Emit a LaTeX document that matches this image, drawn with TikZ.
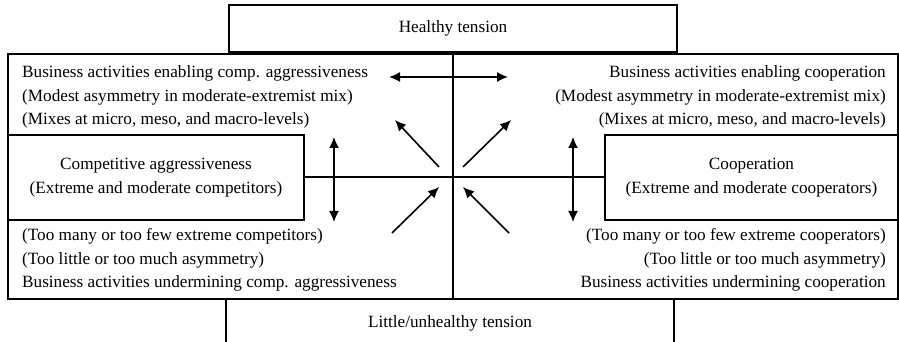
\documentclass[tikz,border=0pt]{standalone}
\usepackage{fontspec}
\setmainfont{Liberation Serif}
\usetikzlibrary{arrows.meta,positioning}
\tikzset{
  tn/frame/.style={draw, line width=2pt, inner sep=0pt},
  tn/box/.style={draw, line width=2pt, fill=white, align=center, inner sep=0pt},
  tn/text/.style={font=\fontsize{17.2}{23.5}\selectfont, inner sep=0pt},
  tn/line/.style={line width=2pt},
  tn/dbl/.style={{Latex[length=11pt,width=10pt]}-{Latex[length=11pt,width=10pt]}, line width=1.6pt},
  tn/arr/.style={-{Latex[length=11pt,width=10pt]}, line width=1.6pt}
}

\begin{document}
\begin{tikzpicture}[x=1pt, y=1pt]
\useasboundingbox (0,0) rectangle (899,342);
% outer frame and tension boxes
\node[tn/frame, minimum width=890pt, minimum height=245pt, anchor=south west] (frame) at (7,42) {};
\node[tn/frame, minimum width=448pt, minimum height=47pt, anchor=south] (healthy) at (frame.north) {};
\node[tn/text] (healthyT) at (healthy.center) {Healthy tension};
\coordinate (unhA) at (226,0);
\coordinate (unhB) at (674,0);
\draw[tn/line] (unhA) -- (unhA |- frame.south);
\draw[tn/line] (unhB) -- (unhB |- frame.south);
\node[tn/text] (unhealthyT) at (450,19) {Little/unhealthy tension};
% axes
\draw[tn/line] (frame.north) -- (frame.south);
\node[tn/box, minimum width=296pt, minimum height=85pt, anchor=west] (comp) at (frame.west |- 0,164.5) {};
\node[tn/box, minimum width=293pt, minimum height=85pt, anchor=east] (coop) at (frame.east |- 0,164.5) {};
\draw[tn/line] (comp.east) -- (coop.west);
\node[tn/text, align=center] (compT) at (comp.center) {Competitive aggressiveness\\(Extreme and moderate competitors)};
\node[tn/text, align=center] (coopT) at (coop.center) {Cooperation\\(Extreme and moderate cooperators)};
% quadrant texts
\node[tn/text, align=left, anchor=west] (ul) at (22,245) {Business activities enabling comp. aggressiveness\\(Modest asymmetry in moderate-extremist mix)\\(Mixes at micro, meso, and macro-levels)};
\node[tn/text, align=right, anchor=east] (ur) at (886,245) {Business activities enabling cooperation\\(Modest asymmetry in moderate-extremist mix)\\(Mixes at micro, meso, and macro-levels)};
\node[tn/text, align=left, anchor=west] (ll) at (22,82) {(Too many or too few extreme competitors)\\(Too little or too much asymmetry)\\Business activities undermining comp. aggressiveness};
\node[tn/text, align=right, anchor=east] (lr) at (886,82) {(Too many or too few extreme cooperators)\\(Too little or too much asymmetry)\\Business activities undermining cooperation};
% arrows
\coordinate (hL) at (389,265);
\coordinate (hR) at (508,265);
\draw[tn/dbl] (hL) -- (hR);
\coordinate (vLt) at (334,205);
\coordinate (vLb) at (334,120);
\coordinate (vRt) at (573,205);
\coordinate (vRb) at (573,120);
\draw[tn/dbl] (vLt) -- (vLb);
\draw[tn/dbl] (vRt) -- (vRb);
\coordinate (c1) at (439,175);
\coordinate (c2) at (463,175);
\coordinate (c3) at (439,155);
\coordinate (c4) at (463,155);
\coordinate (t1) at (395,222);
\coordinate (t2) at (511,222);
\coordinate (b1) at (392,109);
\coordinate (b2) at (509,109);
\draw[tn/arr] (c1) -- (t1);
\draw[tn/arr] (c2) -- (t2);
\draw[tn/arr] (b1) -- (c3);
\draw[tn/arr] (b2) -- (c4);
\end{tikzpicture}
\end{document}
